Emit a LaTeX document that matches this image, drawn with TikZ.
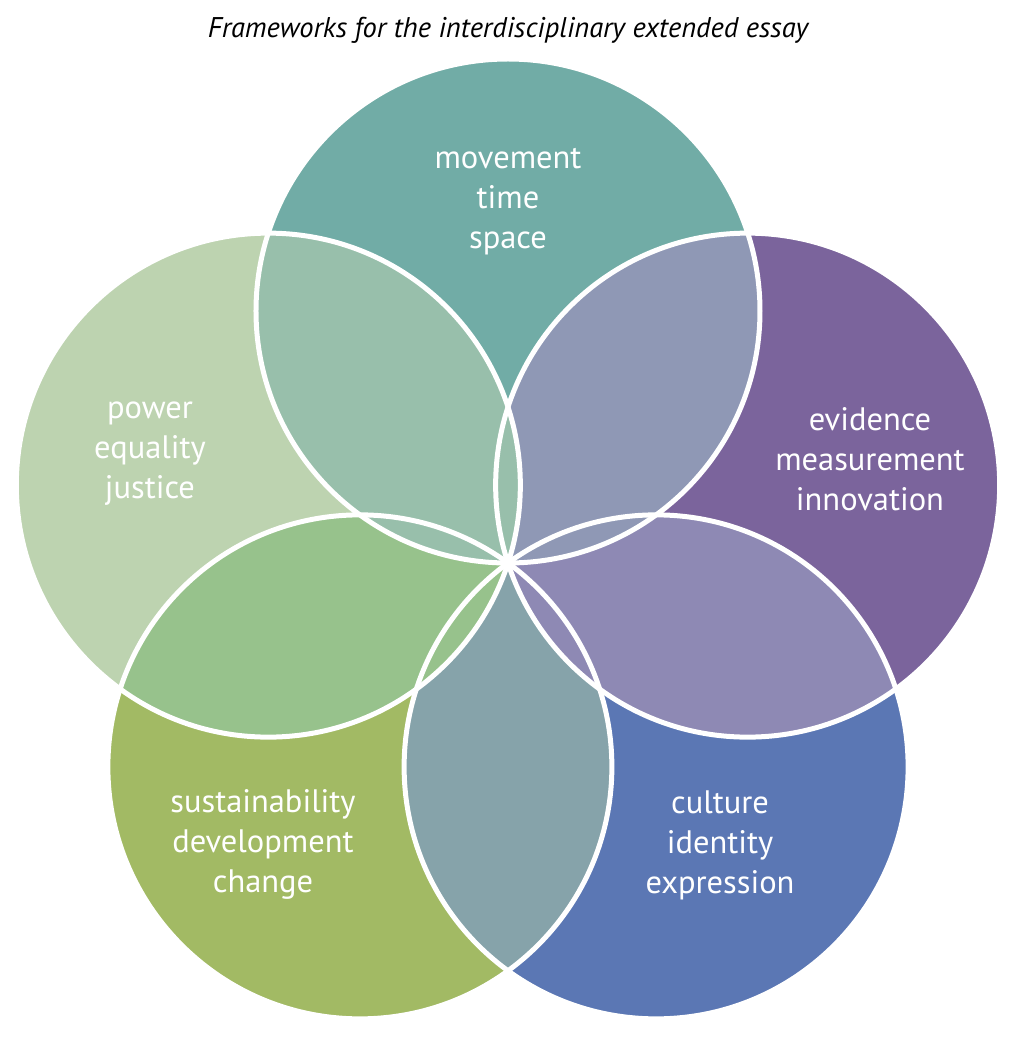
\documentclass[tikz,border=0pt]{standalone}
\usepackage{fontspec}
\setmainfont{PT Sans}
\usetikzlibrary{positioning}
\definecolor{Teal}{HTML}{71ACA6}
\definecolor{Sage}{HTML}{BDD3B0}
\definecolor{Olive}{HTML}{A2BA64}
\definecolor{Cobalt}{HTML}{5B77B4}
\definecolor{Plum}{HTML}{7B649C}
\definecolor{TealSage}{HTML}{98BFAB}
\definecolor{SageOlive}{HTML}{97C28C}
\definecolor{OliveCobalt}{HTML}{86A3AA}
\definecolor{CobaltPlum}{HTML}{8E89B4}
\definecolor{PlumTeal}{HTML}{8F98B5}
\tikzset{
every node/.style={text=white,align=center,font=\fontsize{32.5}{40}\selectfont},
ring/.style={draw=white,line width=5pt},
heading/.style={text=black,font=\fontsize{28.5}{32}\selectfont\itshape},
}

\begin{document}
\begin{tikzpicture}[x=1pt,y=1pt]
\useasboundingbox (-508,-487) rectangle (520,563);
\coordinate (o) at (0,0);
\coordinate (c1) at (90:252);
\coordinate (c2) at (162:252);
\coordinate (c3) at (234:252);
\coordinate (c4) at (306:252);
\coordinate (c5) at (18:252);

\foreach \c/\col in {c1/Teal,c2/Sage,c3/Olive,c4/Cobalt,c5/Plum}
  \fill[\col] (\c) circle (252);

% overlaps, order matters near the middle
\foreach \a/\b/\col in {c3/c4/OliveCobalt,c2/c3/SageOlive,c4/c5/CobaltPlum,c5/c1/PlumTeal,c1/c2/TealSage}
{
  \begin{scope}
    \clip (\a) circle (252);
    \fill[\col] (\b) circle (252);
  \end{scope}
}

\foreach \c in {c1,c2,c3,c4,c5}
  \draw[ring] (\c) circle (252);

\node[heading] (title) at (0,533) {Frameworks for the interdisciplinary extended essay};
\node (t1) at (0,361) {movement\\time\\space};
\node (t2) at (-358,109) {power\\equality\\justice};
\node (t3) at (-245,-281) {sustainability\\development\\change};
\node (t4) at (212,-282) {culture\\identity\\expression};
\node (t5) at (362,104) {evidence\\measurement\\innovation};
\end{tikzpicture}
\end{document}
